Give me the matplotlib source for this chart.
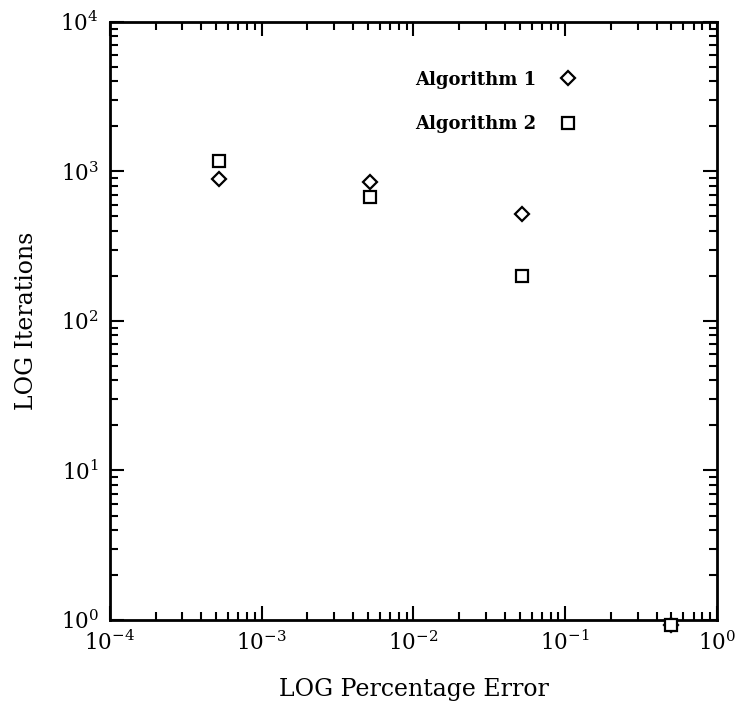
import numpy as np
import matplotlib
matplotlib.use("Agg")
from matplotlib import pyplot as plt
from matplotlib.ticker import LogLocator, NullFormatter

# data
error = [5.2e-4, 5.2e-3, 5.2e-2, 0.5]
iters_alg1 = [885, 845, 517, 0.92]
iters_alg2 = [1180, 670, 200, 0.92]
labels = ["Algorithm 1", "Algorithm 2"]

plt.rcParams['font.family'] = ['DejaVu Serif']
plt.rcParams['mathtext.fontset'] = 'dejavuserif'

fig = plt.figure(figsize=(7.37, 7.03), dpi=100)
ax = fig.add_axes([0.149, 0.118, 0.824, 0.851])

ax.plot(error, iters_alg1, linestyle='none', marker='D', ms=7, mfc='white',
        mec='black', mew=1.6, clip_on=False, zorder=3)
ax.plot(error, iters_alg2, linestyle='none', marker='s', ms=9, mfc='white',
        mec='black', mew=1.6, clip_on=False, zorder=3)

ax.set_xscale('log')
ax.set_yscale('log')
ax.set_xlim(1e-4, 1)
ax.set_ylim(1, 1e4)

for a in (ax.xaxis, ax.yaxis):
    a.set_major_locator(LogLocator(base=10, numticks=10))
    a.set_minor_locator(LogLocator(base=10, subs=np.arange(2, 10), numticks=10))
    a.set_minor_formatter(NullFormatter())

ax.tick_params(which='both', direction='in', top=True, right=True, width=1.5)
ax.tick_params(which='major', length=10, labelsize=15.5, pad=8)
ax.tick_params(which='minor', length=6)
for s in ax.spines.values():
    s.set_linewidth(2)

ax.set_xlabel("LOG Percentage Error", fontsize=17, labelpad=16)
ax.set_ylabel("LOG Iterations", fontsize=17, labelpad=16)

# legend: text then marker
ax.text(0.503, 0.903, labels[0], transform=ax.transAxes, fontsize=13,
        fontweight='bold', va='center', ha='left')
ax.text(0.503, 0.829, labels[1], transform=ax.transAxes, fontsize=13,
        fontweight='bold', va='center', ha='left')
ax.plot([0.755], [0.906], transform=ax.transAxes, marker='D', ms=7,
        mfc='white', mec='black', mew=1.6, linestyle='none')
ax.plot([0.755], [0.83], transform=ax.transAxes, marker='s', ms=9,
        mfc='white', mec='black', mew=1.6, linestyle='none')

fig.savefig("out.png", dpi=100)
